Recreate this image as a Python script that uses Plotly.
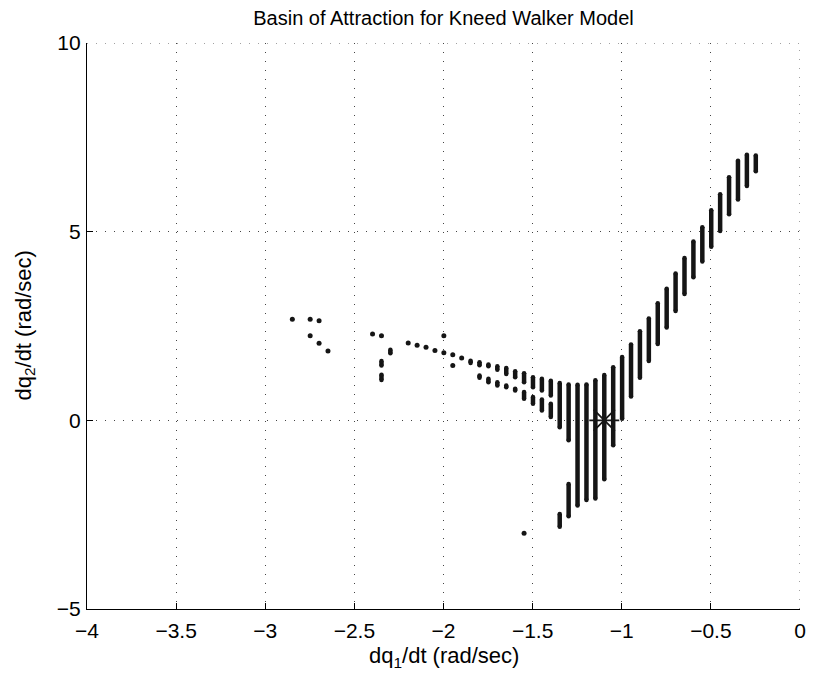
import plotly.graph_objects as go

# ---- data ----
# isolated sample points (x, y)
pt_x = [-2.848, -2.748, -2.698, -2.748, -2.698, -2.648, -2.398, -2.348, -1.998,
        -2.198, -2.148, -2.098, -2.048, -1.998, -1.948, -1.898, -1.948, -1.548]
pt_y = [2.68, 2.68, 2.64, 2.24, 2.04, 1.84, 2.29, 2.24, 2.24,
        2.05, 1.99, 1.94, 1.85, 1.79, 1.74, 1.65, 1.45, -2.99]

# vertical runs of sample points (x, low y, high y)
seg_x = [-2.298, -2.348, -2.348,
         -1.848, -1.798, -1.748, -1.698, -1.648, -1.598, -1.548, -1.498, -1.448, -1.398,
         -1.798, -1.748, -1.698, -1.648, -1.598, -1.548, -1.498, -1.448, -1.398,
         -1.348, -1.348, -1.298, -1.298, -1.248, -1.198, -1.148, -1.098, -1.048,
         -0.998, -0.948, -0.898, -0.848, -0.798, -0.748, -0.698, -0.648, -0.598,
         -0.548, -0.498, -0.448, -0.398, -0.348, -0.298, -0.248]
seg_lo = [1.78, 1.45, 1.07,
          1.52, 1.46, 1.43, 1.34, 1.23, 1.14, 1.01, 0.88, 0.79, 0.66,
          1.13, 1.01, 0.92, 0.88, 0.79, 0.57, 0.44, 0.26, 0.09,
          -0.18, -2.82, -0.53, -2.54, -2.26, -2.11, -2.07, -1.56, -0.66,
          0.04, 0.63, 1.13, 1.57, 2.02, 2.46, 2.90, 3.35, 3.79,
          4.21, 4.60, 5.02, 5.46, 5.85, 6.21, 6.60]
seg_hi = [1.87, 1.57, 1.21,
          1.58, 1.54, 1.48, 1.43, 1.39, 1.30, 1.25, 1.14, 1.10, 1.05,
          1.19, 1.10, 1.01, 0.92, 0.84, 0.75, 0.62, 0.55, 0.44,
          0.99, -2.48, 0.95, -1.69, 0.94, 0.95, 1.06, 1.20, 1.41,
          1.68, 2.01, 2.36, 2.70, 3.10, 3.49, 3.89, 4.30, 4.74,
          5.12, 5.57, 5.99, 6.44, 6.88, 7.04, 7.02]

# equilibrium (fixed point) marker
eq_x = [-1.098]
eq_y = [0.0]

x_ticks = [-4, -3.5, -3, -2.5, -2, -1.5, -1, -0.5, 0]
x_tick_text = ["\u22124", "\u22123.5", "\u22123", "\u22122.5", "\u22122", "\u22121.5", "\u22121", "\u22120.5", "0"]
y_ticks = [-5, 0, 5, 10]
y_tick_text = ["\u22125", "0", "5", "10"]

X_RANGE = [-4, 0]
Y_RANGE = [-5, 10]

INK = "#151515"
GRID = "#444444"
GRID_DASH = "1px,8px"
FONT = "Liberation Sans, Arial, Helvetica, sans-serif"

# build segment polyline with gaps
lx, ly = [], []
for x, lo, hi in zip(seg_x, seg_lo, seg_hi):
    lx += [x, x, None]
    ly += [lo, hi, None]

fig = go.Figure()
fig.add_trace(go.Scatter(x=lx, y=ly, mode="lines+markers",
                         line=dict(color=INK, width=4.5),
                         marker=dict(color=INK, size=4.5),
                         hoverinfo="skip", showlegend=False))
fig.add_trace(go.Scatter(x=pt_x, y=pt_y, mode="markers",
                         marker=dict(color=INK, size=5),
                         showlegend=False))
fig.add_trace(go.Scatter(x=eq_x, y=eq_y, mode="markers",
                         marker=dict(symbol="asterisk-open", size=25,
                                     color=INK, line=dict(color=INK, width=1.8)),
                         showlegend=False))

axis_common = dict(
    showline=True, linecolor="black", linewidth=1.2, mirror=False,
    ticks="inside", ticklen=6, tickcolor="black", tickwidth=1,
    showgrid=True, gridcolor=GRID, gridwidth=1, griddash=GRID_DASH,
    zeroline=False,
    tickfont=dict(family=FONT, size=21, color="black"),
)

fig.update_xaxes(range=X_RANGE, tickvals=x_ticks, ticktext=x_tick_text,
                 ticklabelstandoff=3, **axis_common)
fig.update_yaxes(range=Y_RANGE, tickvals=y_ticks, ticktext=y_tick_text,
                 ticklabelstandoff=1, **axis_common)

# dotted grid lines on the open top and right edges (plotly skips edge gridlines)
fig.add_shape(type="line", xref="x", yref="y", x0=X_RANGE[1], x1=X_RANGE[1],
              y0=Y_RANGE[0], y1=Y_RANGE[1], line=dict(color=GRID, width=1, dash=GRID_DASH),
              layer="below")
fig.add_shape(type="line", xref="x", yref="y", x0=X_RANGE[0], x1=X_RANGE[1],
              y0=Y_RANGE[1], y1=Y_RANGE[1], line=dict(color=GRID, width=1, dash=GRID_DASH),
              layer="below")

fig.update_layout(
    width=815, height=679,
    margin=dict(l=87, r=9, t=43, b=70),
    paper_bgcolor="white", plot_bgcolor="white",
    font=dict(family=FONT, color="black"),
    title=dict(text="Basin of Attraction for Kneed Walker Model",
               font=dict(family=FONT, size=20, color="black"),
               x=0.5, xref="paper", xanchor="center",
               y=1 - 18 / 679, yref="container", yanchor="middle"),
    annotations=[
        dict(text="dq<sub>1</sub>/dt (rad/sec)", xref="paper", yref="paper",
             x=0.5, y=-(657 - 609) / 566, xanchor="center", yanchor="middle",
             showarrow=False, font=dict(family=FONT, size=22, color="black")),
        dict(text="dq<sub>2</sub>/dt (rad/sec)", xref="paper", yref="paper",
             x=-(87 - 24) / 719, y=0.5, xanchor="center", yanchor="middle",
             textangle=-90, showarrow=False,
             font=dict(family=FONT, size=22, color="black")),
    ],
)

fig.write_html("out.html")
